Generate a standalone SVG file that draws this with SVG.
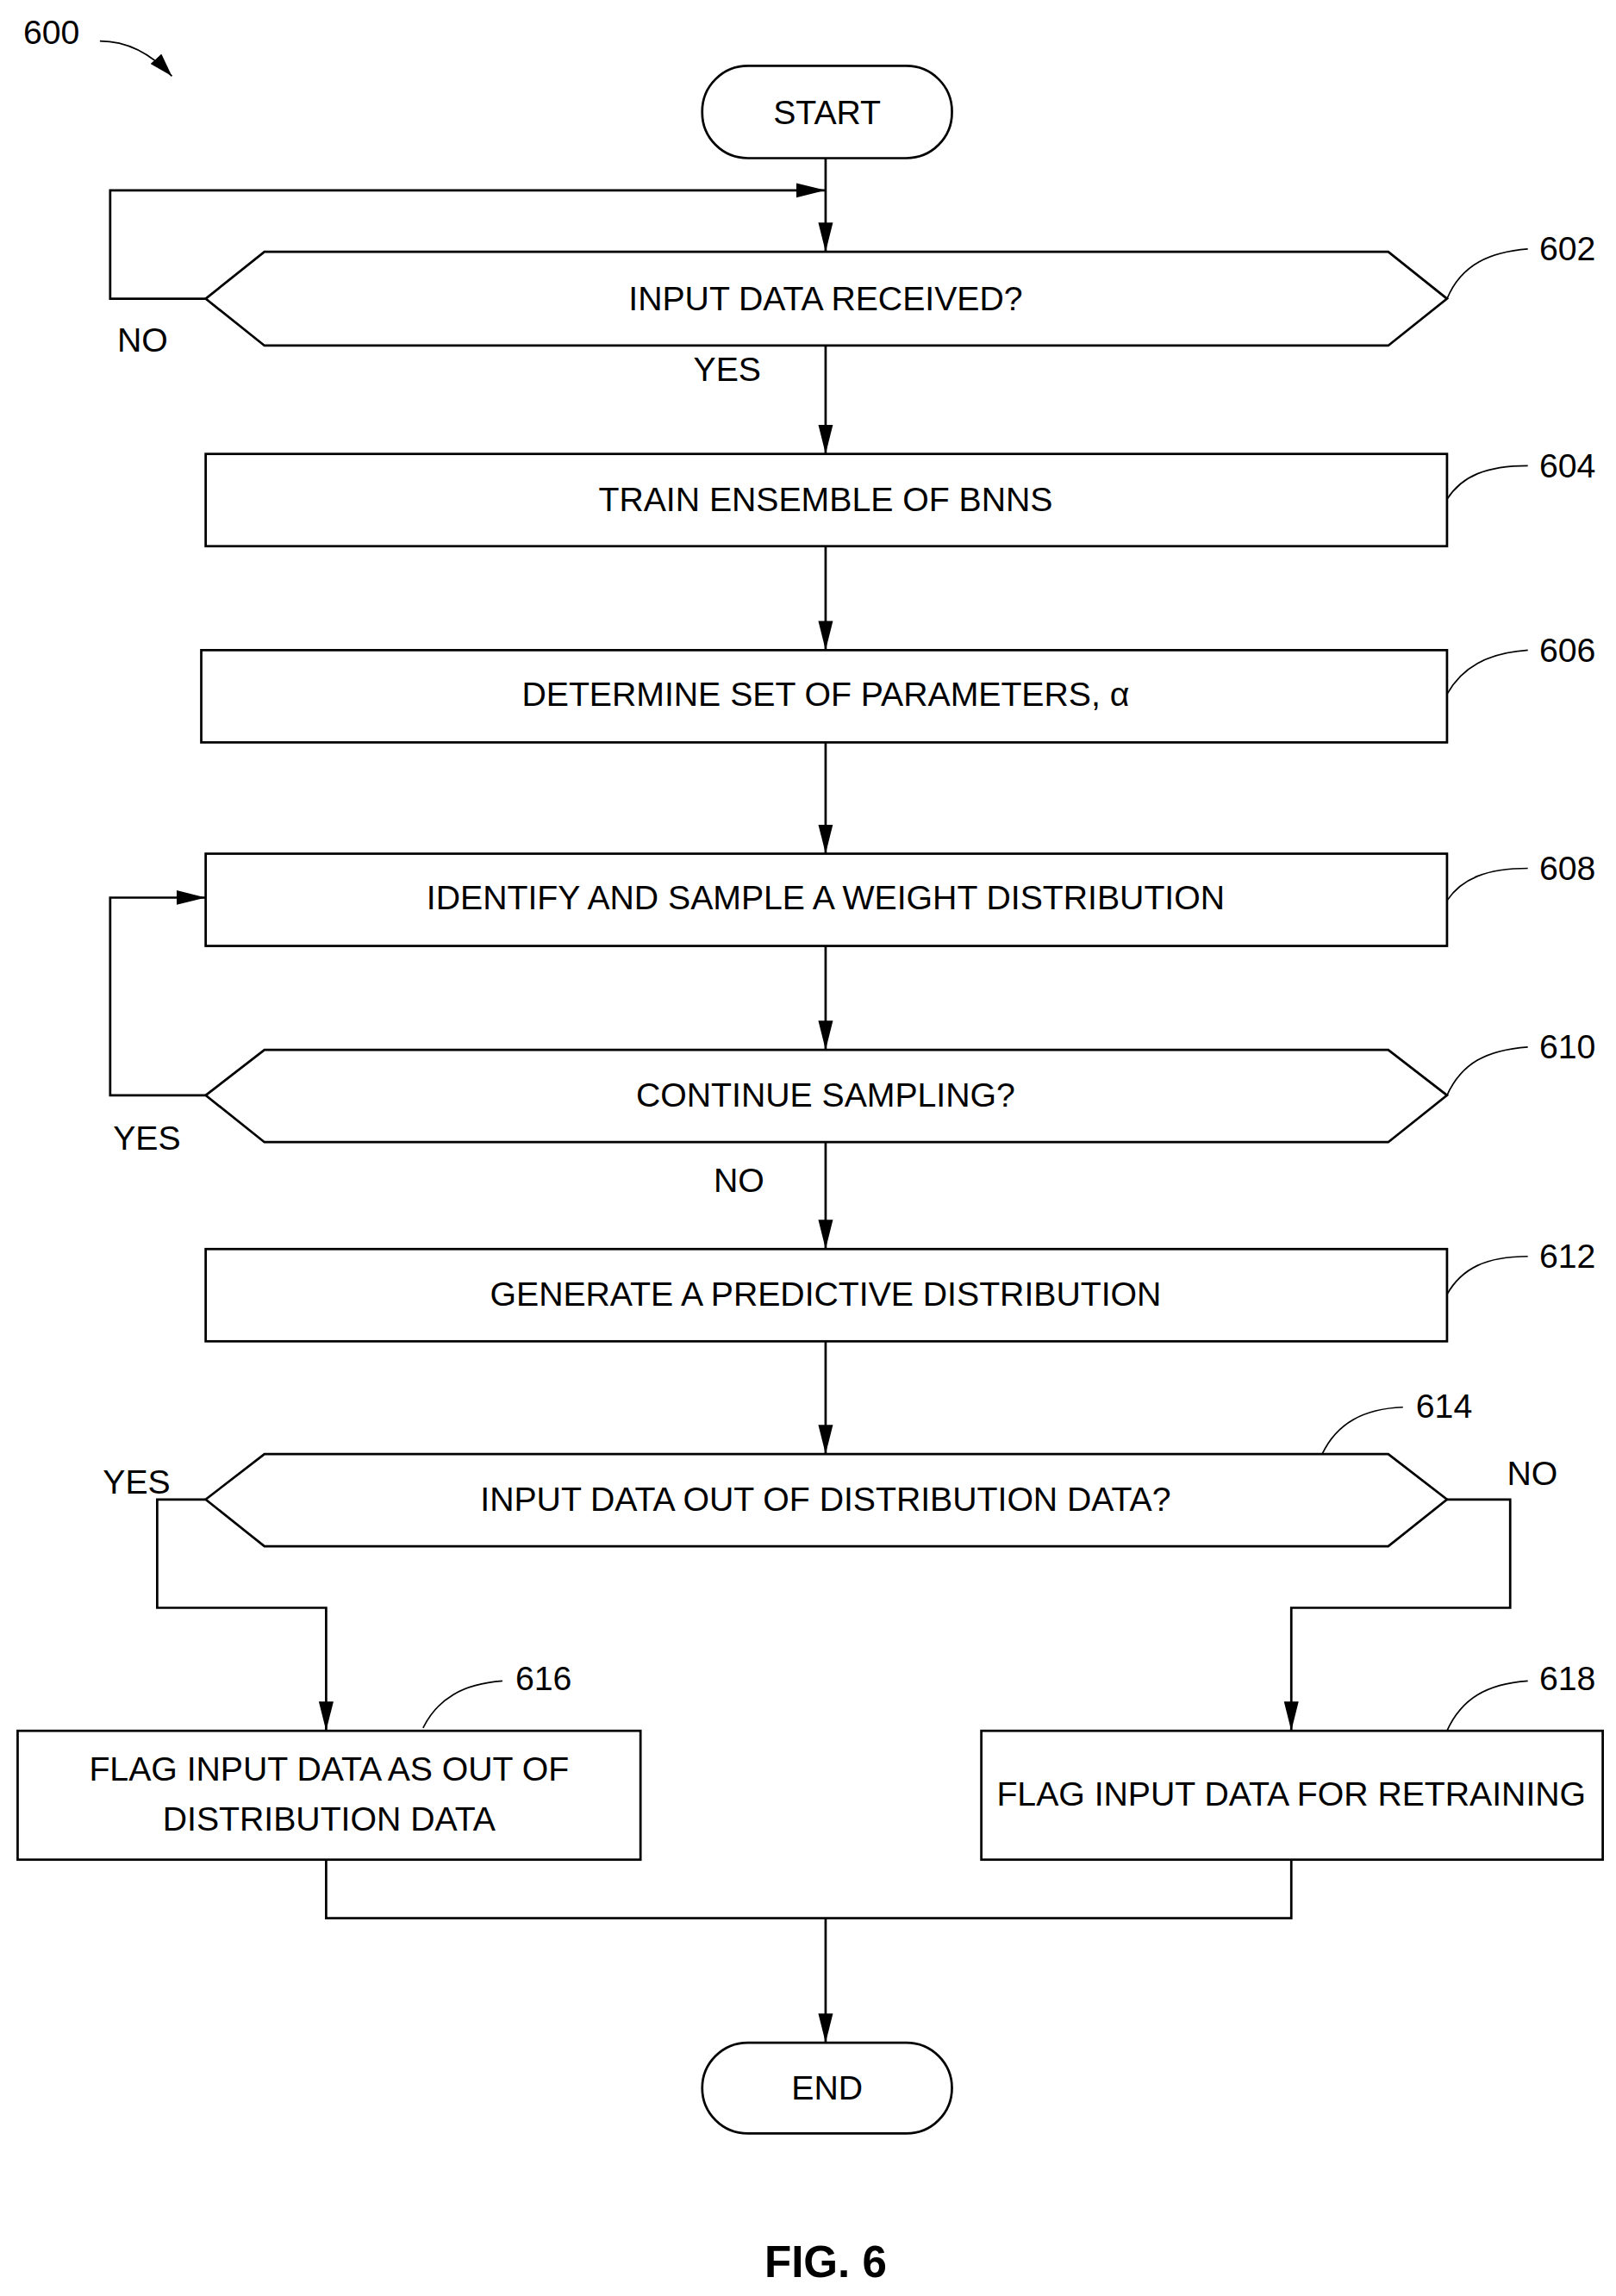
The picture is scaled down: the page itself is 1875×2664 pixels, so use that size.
<svg xmlns="http://www.w3.org/2000/svg" width="1875" height="2664" viewBox="0 0 1875 2664">
<defs>
<marker id="ah" viewBox="0 0 16 10" refX="16" refY="5" markerWidth="16" markerHeight="10" markerUnits="userSpaceOnUse" orient="auto"><path d="M0,0 L16,5 L0,10 z" fill="#000"/></marker>
<marker id="ah2" viewBox="0 0 20 10" refX="20" refY="5" markerWidth="20" markerHeight="11" markerUnits="userSpaceOnUse" orient="auto"><path d="M0,0 L20,5 L0,10 z" fill="#000"/></marker>
<style>
.s{fill:#fff;stroke:#000;stroke-width:1.6}
.c{fill:none;stroke:#000;stroke-width:1.6}
.l{fill:none;stroke:#000;stroke-width:1}
text{font-family:"Liberation Sans",Arial,sans-serif;font-size:23px;fill:#000}
.m{text-anchor:middle}
</style>
</defs>
<rect width="1875" height="2664" fill="#fff"/>
<g transform="scale(1.7045 1.699)">
<g id="connectors">
<path class="c" d="M562,108 V172" marker-end="url(#ah2)"/>
<path class="c" d="M140,204 H75 V130 H562" marker-end="url(#ah2)"/>
<path class="c" d="M562,236 V310" marker-end="url(#ah2)"/>
<path class="c" d="M562,373 V444" marker-end="url(#ah2)"/>
<path class="c" d="M562,507 V583" marker-end="url(#ah2)"/>
<path class="c" d="M562,646 V717" marker-end="url(#ah2)"/>
<path class="c" d="M140,748 H75 V613 H140" marker-end="url(#ah2)"/>
<path class="c" d="M562,780 V853" marker-end="url(#ah2)"/>
<path class="c" d="M562,916 V993" marker-end="url(#ah2)"/>
<path class="c" d="M140,1024 H107 V1098 H222 V1182" marker-end="url(#ah2)"/>
<path class="c" d="M985,1024 H1028 V1098 H879 V1182" marker-end="url(#ah2)"/>
<path class="c" d="M222,1270 V1310 H879 V1270"/>
<path class="c" d="M562,1310 V1395" marker-end="url(#ah2)"/>
<text x="97" y="240" class="m">NO</text>
<text x="495" y="260" class="m">YES</text>
<text x="100" y="785" class="m">YES</text>
<text x="503" y="814" class="m">NO</text>
<text x="93" y="1020" class="m">YES</text>
<text x="1043" y="1014" class="m">NO</text>
</g>
<g id="label600">
<text x="35" y="30" class="m">600</text>
<path class="l" d="M68,28 Q95,28 117,52" marker-end="url(#ah)"/>
</g>
<g id="start"><rect class="s" x="478" y="45" width="170" height="63" rx="31"/><text x="563" y="85" class="m">START</text></g>
<g id="n602"><path class="s" d="M140,204 L180,172 H945 L985,204 L945,236 H180 Z"/><text x="562" y="212" class="m">INPUT DATA RECEIVED?</text>
<path class="l" d="M985,204 C995,180 1015,172 1040,170"/><text x="1067" y="178" class="m">602</text></g>
<g id="n604"><rect class="s" x="140" y="310" width="845" height="63"/><text x="562" y="349" class="m">TRAIN ENSEMBLE OF BNNS</text>
<path class="l" d="M985,341 C995,325 1012,318 1040,318"/><text x="1067" y="326" class="m">604</text></g>
<g id="n606"><rect class="s" x="137" y="444" width="848" height="63"/><text x="562" y="482" class="m">DETERMINE SET OF PARAMETERS, α</text>
<path class="l" d="M985,474 C995,456 1012,446 1040,444"/><text x="1067" y="452" class="m">606</text></g>
<g id="n608"><rect class="s" x="140" y="583" width="845" height="63"/><text x="562" y="621" class="m">IDENTIFY AND SAMPLE A WEIGHT DISTRIBUTION</text>
<path class="l" d="M985,615 C995,600 1012,593 1040,593"/><text x="1067" y="601" class="m">608</text></g>
<g id="n610"><path class="s" d="M140,748 L180,717 H945 L985,748 L945,780 H180 Z"/><text x="562" y="756" class="m">CONTINUE SAMPLING?</text>
<path class="l" d="M985,748 C995,726 1012,717 1040,715"/><text x="1067" y="723" class="m">610</text></g>
<g id="n612"><rect class="s" x="140" y="853" width="845" height="63"/><text x="562" y="892" class="m">GENERATE A PREDICTIVE DISTRIBUTION</text>
<path class="l" d="M985,884 C995,866 1012,858 1040,858"/><text x="1067" y="866" class="m">612</text></g>
<g id="n614"><path class="s" d="M140,1024 L180,993 H945 L985,1024 L945,1056 H180 Z"/><text x="562" y="1032" class="m">INPUT DATA OUT OF DISTRIBUTION DATA?</text>
<path class="l" d="M900,993 C910,972 928,962 955,961"/><text x="983" y="968" class="m">614</text></g>
<g id="n616"><rect class="s" x="12" y="1182" width="424" height="88"/><text x="224" y="1216" class="m">FLAG INPUT DATA AS OUT OF</text><text x="224" y="1250" class="m">DISTRIBUTION DATA</text>
<path class="l" d="M288,1180 C298,1160 315,1150 342,1148"/><text x="370" y="1154" class="m">616</text></g>
<g id="n618"><rect class="s" x="668" y="1182" width="423" height="88"/><text x="879" y="1233" class="m">FLAG INPUT DATA FOR RETRAINING</text>
<path class="l" d="M985,1182 C995,1160 1012,1150 1040,1148"/><text x="1067" y="1154" class="m">618</text></g>
<g id="end"><rect class="s" x="478" y="1395" width="170" height="62" rx="31"/><text x="563" y="1434" class="m">END</text></g>
<text x="562" y="1555" class="m" style="font-size:30px;font-weight:bold">FIG. 6</text>
</g>
</svg>
